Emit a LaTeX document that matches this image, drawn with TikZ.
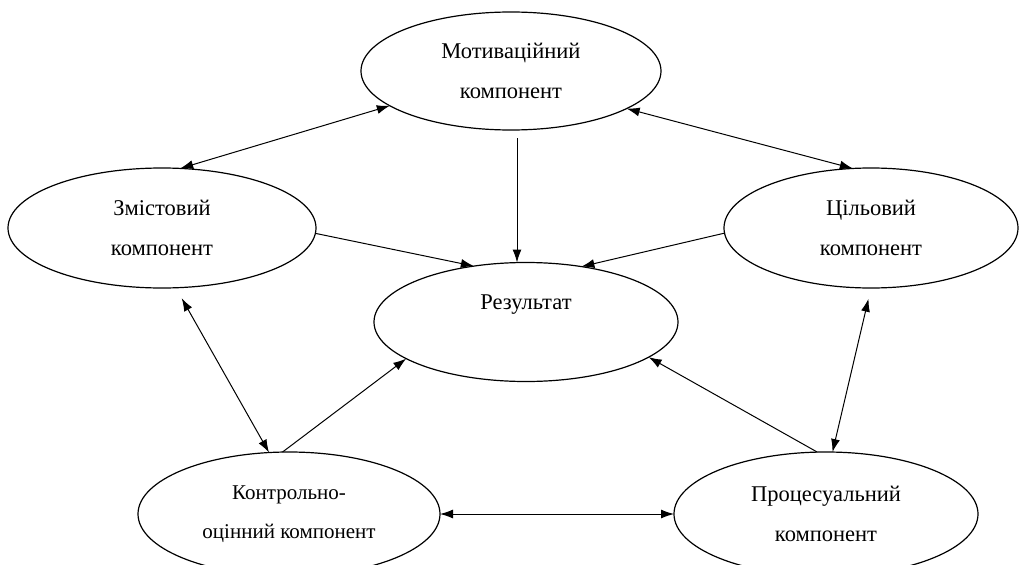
\documentclass[tikz,border=0pt]{standalone}
\usepackage{fontspec}
\setmainfont{Liberation Serif}
\usetikzlibrary{
  shapes.geometric,
  arrows.meta
  }

\begin{document}
\begin{tikzpicture}[x=1pt, y=-1pt]
    \useasboundingbox (0,0) rectangle (1021,565);
    \def\h{120}
    \tikzset{comp/.style = {draw, ellipse, line width=1.2pt, inner sep=0pt, outer sep=0pt,
                            align=center, font=\fontsize{22.5}{40}\selectfont}}
    \tikzset{arr/.style = {line width=1pt, -{Latex[length=13pt,width=9pt]}}}
    \tikzset{darr/.style = {line width=1pt, {Latex[length=13pt,width=9pt]}-{Latex[length=13pt,width=9pt]}}}

    % componenti
    \node [comp, minimum width=300, minimum height=118] (nmotiv) at (511,71) {Мотиваційний\\компонент};
    \node [comp, minimum width=308, minimum height=\h] (nzmist) at (162,228) {Змістовий\\компонент};
    \node [comp, minimum width=294, minimum height=\h] (ncil) at (871,228) {Цільовий\\компонент};
    \node [comp, minimum width=304, minimum height=119] (nrez) at (526,322) {Результат\\\mbox{}};
    \node [comp, minimum width=302, minimum height=124, font=\fontsize{21}{39}\selectfont] (nkontr) at (289,514) {Контрольно-\\оцінний компонент};
    \node [comp, minimum width=304, minimum height=124] (nproc) at (826,514) {Процесуальний\\компонент};

    % frecce
    \draw [darr] (nmotiv.196) -- (nzmist.73);
    \draw [darr] (nmotiv.342) -- (ncil.107);
    \draw [arr] ([xshift=6pt, yshift=-8pt]nmotiv.south) -- ([xshift=-9pt]nrez.north);
    \draw [arr] (nzmist.358) -- (nrez.133);
    \draw [arr] (ncil.182) -- (nrez.45);
    \draw [darr, shorten <=12pt] (nzmist.283) -- (nkontr.108);
    \draw [arr] (nkontr.96) -- (nrez.197);
    \draw [arr] (nproc.98) -- (nrez.344);
    \draw [darr, shorten <=11pt] (ncil.270) -- (nproc.84);
    \draw [darr] (nkontr.east) -- (nproc.west);
\end{tikzpicture}
\end{document}
